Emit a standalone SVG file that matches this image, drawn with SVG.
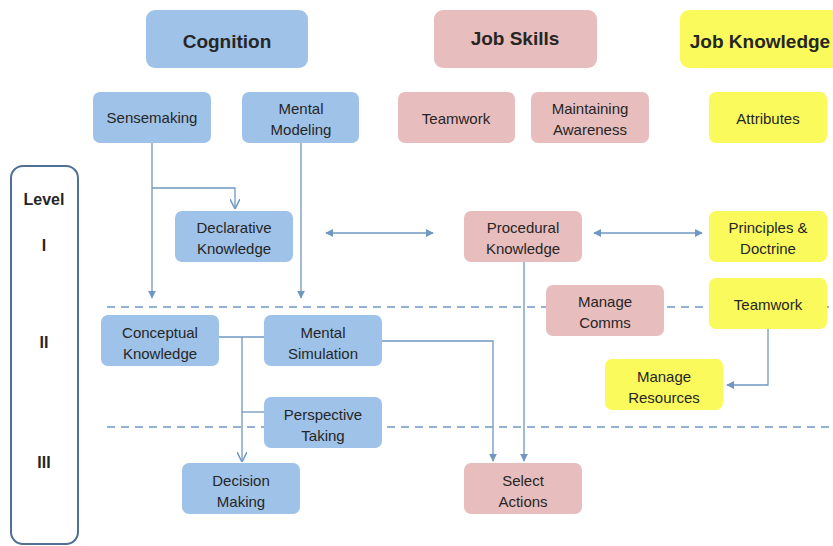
<svg xmlns="http://www.w3.org/2000/svg" width="833" height="546" viewBox="0 0 833 546">
<defs>
<style>
.b{fill:#9fc2e8}
.p{fill:#e8bdbd}
.y{fill:#fafa5c}
text{font-family:"Liberation Sans",Arial,sans-serif;font-size:15px;fill:#262626;text-anchor:middle}
.t{font-size:19px;font-weight:bold}
.lv{font-size:16px;font-weight:bold}
.c{fill:none;stroke:#6f97c2;stroke-width:1.3}
.d{fill:none;stroke:#6f97c2;stroke-width:1.6;stroke-dasharray:8,6}
</style>
<marker id="a" viewBox="0 0 10 10" refX="9" refY="5" markerWidth="8" markerHeight="8" markerUnits="userSpaceOnUse" orient="auto-start-reverse"><path d="M0,0 L10,5 L0,10 z" fill="#6f97c2"/></marker>
<marker id="v" viewBox="0 0 10 10" refX="9" refY="5" markerWidth="10" markerHeight="10" markerUnits="userSpaceOnUse" orient="auto"><path d="M0,0 L10,5 L0,10" fill="none" stroke="#6f97c2" stroke-width="1.5"/></marker>
</defs>
<rect width="833" height="546" fill="#fff"/>
<g id="levels">
<rect x="11" y="166" width="67" height="378" rx="12" fill="#fff" stroke="#4f6f93" stroke-width="2"/>
<text class="lv" x="44" y="205">Level</text>
<text class="lv" x="44" y="251">I</text>
<text class="lv" x="44" y="348">II</text>
<text class="lv" x="44" y="468">III</text>
</g>
<g id="dividers">
<line class="d" x1="107" y1="307" x2="833" y2="307"/>
<line class="d" x1="107" y1="427" x2="833" y2="427"/>
</g>
<g id="connectors">
<path class="c" d="M152,143 V298" marker-end="url(#a)"/>
<path class="c" d="M152,188 H235 V208" marker-end="url(#v)"/>
<path class="c" d="M301,143 V298" marker-end="url(#a)"/>
<path class="c" d="M326,233 H433" marker-start="url(#a)" marker-end="url(#a)"/>
<path class="c" d="M594,233 H702" marker-start="url(#a)" marker-end="url(#a)"/>
<path class="c" d="M219,337 H264"/>
<path class="c" d="M242,337 V461" marker-end="url(#v)"/>
<path class="c" d="M242,412 H264"/>
<path class="c" d="M382,341 H493 V461" marker-end="url(#a)"/>
<path class="c" d="M524,262 V461" marker-end="url(#a)"/>
<path class="c" d="M768,329 V385 H727" marker-end="url(#a)"/>
</g>
<g id="cognition"><rect class="b" x="146" y="10" width="162" height="58" rx="9"/><text class="t" x="227" y="48">Cognition</text></g>
<g id="job-skills"><rect class="p" x="434" y="10" width="163" height="58" rx="9"/><text class="t" x="515" y="45">Job Skills</text></g>
<g id="job-knowledge"><rect class="y" x="680" y="10" width="165" height="58" rx="9"/><text class="t" x="760" y="48">Job Knowledge</text></g>
<g id="sensemaking"><rect class="b" x="93" y="92" width="118" height="51" rx="7"/><text x="152" y="123">Sensemaking</text></g>
<g id="mental-modeling"><rect class="b" x="242" y="92" width="117" height="51" rx="7"/><text x="301" y="114">Mental</text><text x="301" y="135">Modeling</text></g>
<g id="teamwork-skill"><rect class="p" x="398" y="92" width="117" height="51" rx="7"/><text x="456" y="124">Teamwork</text></g>
<g id="maintaining-awareness"><rect class="p" x="531" y="92" width="118" height="51" rx="7"/><text x="590" y="114">Maintaining</text><text x="590" y="135">Awareness</text></g>
<g id="attributes"><rect class="y" x="709" y="92" width="118" height="51" rx="7"/><text x="768" y="124">Attributes</text></g>
<g id="declarative-knowledge"><rect class="b" x="175" y="211" width="118" height="51" rx="7"/><text x="234" y="233">Declarative</text><text x="234" y="254">Knowledge</text></g>
<g id="procedural-knowledge"><rect class="p" x="464" y="211" width="118" height="51" rx="7"/><text x="523" y="233">Procedural</text><text x="523" y="254">Knowledge</text></g>
<g id="principles-doctrine"><rect class="y" x="709" y="211" width="118" height="51" rx="7"/><text x="768" y="233">Principles &amp;</text><text x="768" y="254">Doctrine</text></g>
<g id="manage-comms"><rect class="p" x="546" y="285" width="118" height="51" rx="7"/><text x="605" y="307">Manage</text><text x="605" y="328">Comms</text></g>
<g id="teamwork-knowledge"><rect class="y" x="709" y="278" width="118" height="51" rx="7"/><text x="768" y="310">Teamwork</text></g>
<g id="manage-resources"><rect class="y" x="605" y="359" width="118" height="51" rx="7"/><text x="664" y="382">Manage</text><text x="664" y="403">Resources</text></g>
<g id="conceptual-knowledge"><rect class="b" x="101" y="315" width="118" height="51" rx="7"/><text x="160" y="338">Conceptual</text><text x="160" y="359">Knowledge</text></g>
<g id="mental-simulation"><rect class="b" x="264" y="315" width="118" height="51" rx="7"/><text x="323" y="338">Mental</text><text x="323" y="359">Simulation</text></g>
<g id="perspective-taking"><rect class="b" x="264" y="397" width="118" height="51" rx="7"/><text x="323" y="420">Perspective</text><text x="323" y="441">Taking</text></g>
<g id="decision-making"><rect class="b" x="182" y="463" width="118" height="51" rx="7"/><text x="241" y="486">Decision</text><text x="241" y="507">Making</text></g>
<g id="select-actions"><rect class="p" x="464" y="463" width="118" height="51" rx="7"/><text x="523" y="486">Select</text><text x="523" y="507">Actions</text></g>
</svg>
